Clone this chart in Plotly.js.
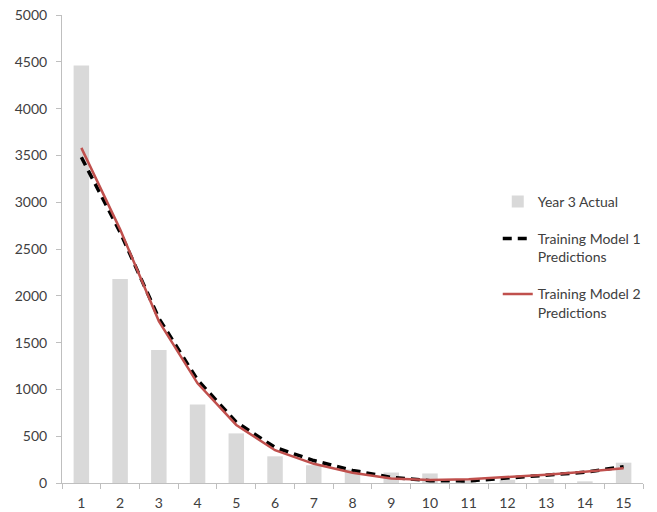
<!DOCTYPE html>
<html>
<head>
<meta charset="utf-8">
<script src="https://cdn.plot.ly/plotly-3.0.1.min.js"></script>
<style>html,body{margin:0;padding:0;background:#fff;}#chart{width:657px;height:512px;}</style>
</head>
<body>
<div id="chart"></div>
<script>
const categories = ["1","2","3","4","5","6","7","8","9","10","11","12","13","14","15"];
const year3Actual = [4460, 2180, 1420, 840, 530, 285, 190, 145, 112, 102, 25, 35, 42, 18, 217];
const model1Pred = [3480, 2680, 1760, 1100, 650, 380, 240, 135, 60, 25, 22, 50, 80, 115, 175];
const model2Pred = [3580, 2710, 1730, 1065, 620, 350, 205, 110, 48, 33, 40, 60, 88, 120, 158];
const seriesNames = ["Year 3 Actual", "Training Model 1<br>Predictions", "Training Model 2<br>Predictions"];

const traces = [
  {type:'bar', x:categories, y:year3Actual, name:seriesNames[0], marker:{color:'#d9d9d9'}, legendgroup:'a'},
  {type:'scatter', mode:'lines', x:categories, y:model1Pred, name:seriesNames[1], line:{color:'#000000', width:3.5, dash:'9px,6px'}, legendgroup:'b'},
  {type:'scatter', mode:'lines', x:categories, y:model2Pred, name:seriesNames[2], line:{color:'#c0504d', width:2.5}, legendgroup:'c'}
];

const layout = {
  width:657, height:512,
  margin:{l:62, r:11, t:15, b:29},
  paper_bgcolor:'#ffffff', plot_bgcolor:'#ffffff',
  font:{family:'Lato, "Open Sans", sans-serif', size:14, color:'#404040'},
  bargap:0.6,
  showlegend:true,
  legend:{x:0.75, y:0.635, xanchor:'left', yanchor:'top', bgcolor:'rgba(0,0,0,0)', font:{size:14, color:'#404040'}, tracegroupgap:16, valign:'top', traceorder:'grouped'},
  xaxis:{type:'category', showgrid:false, zeroline:false, showline:true, linecolor:'#bfbfbf', linewidth:1,
         ticks:'outside', ticklen:5, tickcolor:'#bfbfbf', tickson:'boundaries', ticklabelstandoff:7, tickfont:{size:14, color:'#404040'}},
  yaxis:{range:[0,5000], dtick:500, showgrid:false, zeroline:false, showline:true, linecolor:'#bfbfbf', linewidth:1,
         ticks:'outside', ticklen:5, tickcolor:'#bfbfbf', ticklabelstandoff:6, tickfont:{size:14, color:'#404040'}}
};

Plotly.newPlot('chart', traces, layout, {displayModeBar:false, staticPlot:true});
</script>
</body>
</html>
